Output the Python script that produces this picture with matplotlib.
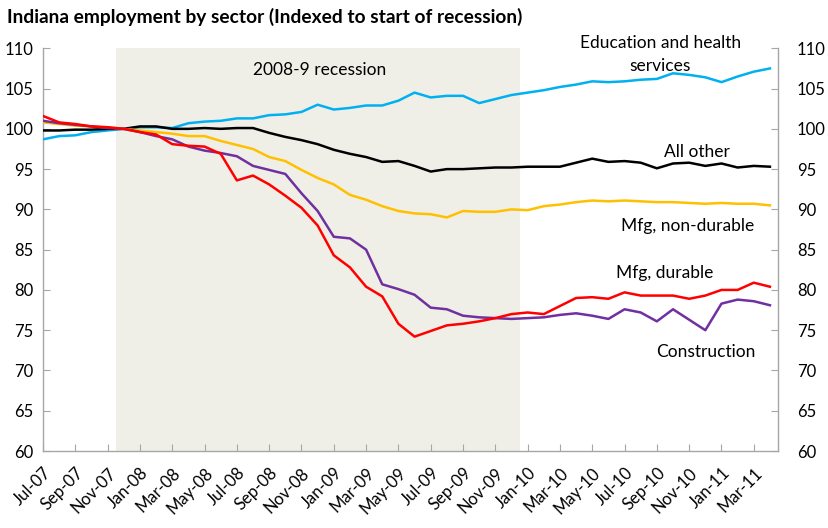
import matplotlib
matplotlib.use("Agg")
import matplotlib.pyplot as plt
import matplotlib.transforms as mtransforms

plt.rcParams['font.family'] = ['Lato', 'DejaVu Sans']

tick_labels = ["Jul-07", "Sep-07", "Nov-07", "Jan-08", "Mar-08", "May-08", "Jul-08",
               "Sep-08", "Nov-08", "Jan-09", "Mar-09", "May-09", "Jul-09", "Sep-09",
               "Nov-09", "Jan-10", "Mar-10", "May-10", "Jul-10", "Sep-10", "Nov-10",
               "Jan-11", "Mar-11"]

education = [98.7, 99.1, 99.2, 99.6, 99.8, 100.0, 100.2, 100.2, 100.1, 100.7, 100.9, 101.0,
             101.3, 101.3, 101.7, 101.8, 102.1, 103.0, 102.4, 102.6, 102.9, 102.9, 103.5, 104.5,
             103.9, 104.1, 104.1, 103.2, 103.7, 104.2, 104.5, 104.8, 105.2, 105.5, 105.9, 105.8,
             105.9, 106.1, 106.2, 106.9, 106.7, 106.4, 105.8, 106.5, 107.1, 107.5]
all_other = [99.8, 99.8, 99.9, 99.9, 100.0, 100.0, 100.3, 100.3, 100.0, 100.0, 100.1, 100.0,
             100.1, 100.1, 99.5, 99.0, 98.6, 98.1, 97.4, 96.9, 96.5, 95.9, 96.0, 95.4,
             94.7, 95.0, 95.0, 95.1, 95.2, 95.2, 95.3, 95.3, 95.3, 95.8, 96.3, 95.9,
             96.0, 95.8, 95.1, 95.7, 95.8, 95.4, 95.7, 95.2, 95.4, 95.3]
mfg_nondurable = [100.8, 100.6, 100.4, 100.3, 100.2, 100.0, 99.8, 99.6, 99.4, 99.1, 99.1, 98.5,
                  98.0, 97.5, 96.5, 96.0, 94.9, 93.9, 93.1, 91.8, 91.2, 90.4, 89.8, 89.5,
                  89.4, 89.0, 89.8, 89.7, 89.7, 90.0, 89.9, 90.4, 90.6, 90.9, 91.1, 91.0,
                  91.1, 91.0, 90.9, 90.9, 90.8, 90.7, 90.8, 90.7, 90.7, 90.5]
construction = [101.0, 100.7, 100.5, 100.3, 100.1, 100.0, 99.6, 99.1, 98.7, 97.8, 97.3, 97.0,
                96.6, 95.4, 94.9, 94.4, 92.0, 89.8, 86.6, 86.4, 85.0, 80.7, 80.1, 79.4,
                77.8, 77.6, 76.8, 76.6, 76.5, 76.4, 76.5, 76.6, 76.9, 77.1, 76.8, 76.4,
                77.6, 77.2, 76.1, 77.6, 76.3, 75.0, 78.3, 78.8, 78.6, 78.1]
mfg_durable = [101.6, 100.8, 100.6, 100.3, 100.2, 100.0, 99.6, 99.3, 98.1, 97.9, 97.8, 96.9,
               93.6, 94.2, 93.1, 91.7, 90.2, 88.0, 84.3, 82.8, 80.4, 79.2, 75.8, 74.2,
               74.9, 75.6, 75.8, 76.1, 76.5, 77.0, 77.2, 77.0, 78.0, 79.0, 79.1, 78.9,
               79.7, 79.3, 79.3, 79.3, 78.9, 79.3, 80.0, 80.0, 80.9, 80.4]

recession_start = 5   # Dec-07
recession_end = 29    # Dec-09

fig = plt.figure(figsize=(8.29, 5.28), dpi=100)
ax = fig.add_axes([0.0519, 0.1458, 0.8866, 0.7627])

n = len(education)
x = list(range(n))

ax.axvspan(recession_start - 0.5, recession_end + 0.5, color='#F0EFE7', zorder=0, lw=0)

lw = 1.8
ax.plot(x, education, color='#00B0F0', lw=lw, zorder=3)
ax.plot(x, all_other, color='#000000', lw=lw, zorder=3)
ax.plot(x, mfg_nondurable, color='#FFC000', lw=lw, zorder=3)
ax.plot(x, construction, color='#7030A0', lw=lw, zorder=3)
ax.plot(x, mfg_durable, color='#FF0000', lw=lw, zorder=3)

ax.set_xlim(0, 45.5)
ax.set_ylim(60, 110)

ax.set_yticks(list(range(60, 111, 5)))
ax.tick_params(axis='y', which='both', direction='in', length=5, color='#A6A6A6',
               labelsize=12, left=True, right=True, labelleft=True, labelright=True, pad=7)

ax.set_xticks(list(range(0, 2 * len(tick_labels), 2)))
ax.set_xticklabels(tick_labels, rotation=45, ha='right', va='top', rotation_mode='anchor', fontsize=12)
ax.tick_params(axis='x', direction='in', length=5, color='#A6A6A6', pad=10)

for s in ['left', 'right', 'bottom']:
    ax.spines[s].set_color('#A6A6A6')
    ax.spines[s].set_linewidth(1.0)
ax.spines['top'].set_visible(False)

offset = mtransforms.ScaledTranslation(6.5 / 72, 0, fig.dpi_scale_trans)
for t in ax.yaxis.get_major_ticks():
    t.label2.set_transform(t.label2.get_transform() + offset)

fs = 12.5
ax.text(17.1, 107.3, "2008-9 recession", ha='center', va='center', fontsize=fs)
ax.text(38.2, 110.7, "Education and health", ha='center', va='center', fontsize=fs, clip_on=False)
ax.text(38.2, 107.85, "services", ha='center', va='center', fontsize=fs)
ax.text(40.5, 97.1, "All other", ha='center', va='center', fontsize=fs)
ax.text(39.9, 87.9, "Mfg, non-durable", ha='center', va='center', fontsize=fs)
ax.text(38.5, 82.1, "Mfg, durable", ha='center', va='center', fontsize=fs)
ax.text(41.0, 72.3, "Construction", ha='center', va='center', fontsize=fs)

fig.text(0.009, 0.968, "Indiana employment by sector (Indexed to start of recession)",
         fontsize=13.8, fontweight='bold', ha='left', va='center')

fig.savefig("out.png", dpi=100)
